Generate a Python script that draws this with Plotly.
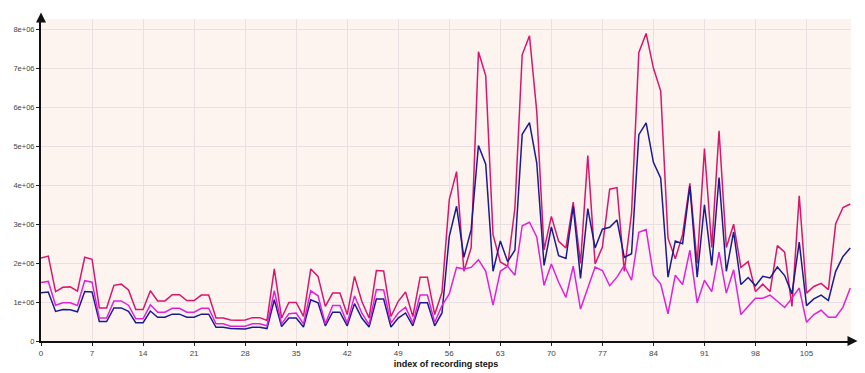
import plotly.graph_objects as go

steps = list(range(112))

series_red = [
    2.13, 2.18, 1.27, 1.38, 1.39, 1.28, 2.15, 2.10, 0.85, 0.85,
    1.43, 1.46, 1.31, 0.81, 0.81, 1.29, 1.03, 1.03, 1.19, 1.19,
    1.04, 1.04, 1.18, 1.18, 0.59, 0.59, 0.54, 0.53, 0.54, 0.60,
    0.60, 0.53, 1.85, 0.59, 0.99, 0.99, 0.63, 1.85, 1.66, 0.89,
    1.23, 1.23, 0.68, 1.66, 1.02, 0.59, 1.81, 1.80, 0.63, 1.02,
    1.26, 0.63, 1.64, 1.64, 0.68, 1.25, 3.63, 4.35, 1.79, 2.39,
    7.43, 6.81, 2.73, 2.03, 1.92, 3.41, 7.35, 7.84, 5.89, 2.34,
    3.20, 2.56, 2.39, 3.57, 1.99, 4.76, 1.98, 2.41, 3.90, 3.94,
    1.79, 3.28, 7.41, 7.90, 7.01, 6.42, 2.64, 2.11, 2.73, 4.05,
    1.99, 4.94, 2.40, 5.40, 2.40, 3.00, 1.89, 2.04, 1.27, 1.46,
    1.27, 2.45, 2.28, 0.89, 3.73, 1.23, 1.40, 1.48, 1.32, 3.01,
    3.43, 3.52,
]

series_navy = [
    1.24, 1.26, 0.76, 0.81, 0.80, 0.75, 1.27, 1.26, 0.50, 0.50,
    0.85, 0.85, 0.76, 0.47, 0.47, 0.77, 0.61, 0.61, 0.69, 0.69,
    0.61, 0.61, 0.69, 0.69, 0.35, 0.35, 0.32, 0.31, 0.31, 0.35,
    0.35, 0.32, 1.06, 0.37, 0.59, 0.59, 0.36, 1.06, 0.98, 0.39,
    0.74, 0.74, 0.39, 0.96, 0.59, 0.36, 1.08, 1.08, 0.36, 0.59,
    0.72, 0.39, 0.98, 0.98, 0.39, 0.72, 2.69, 3.46, 2.15, 2.86,
    5.02, 4.54, 1.79, 2.57, 2.04, 2.33, 5.31, 5.61, 4.57, 1.94,
    2.93, 2.19, 2.12, 3.46, 1.61, 3.40, 2.39, 2.87, 2.92, 3.11,
    2.15, 2.24, 5.30, 5.60, 4.59, 4.18, 1.64, 2.57, 2.50, 3.98,
    1.64, 3.50, 1.94, 4.20, 1.79, 2.80, 1.45, 1.63, 1.42, 1.66,
    1.62, 1.90, 1.68, 1.21, 2.54, 0.91, 1.08, 1.18, 1.04, 1.79,
    2.17, 2.39,
]

series_magenta = [
    1.50, 1.53, 0.92, 0.98, 0.98, 0.91, 1.55, 1.51, 0.59, 0.59,
    1.03, 1.03, 0.92, 0.57, 0.57, 0.93, 0.74, 0.74, 0.84, 0.84,
    0.74, 0.74, 0.84, 0.84, 0.44, 0.44, 0.38, 0.38, 0.38, 0.44,
    0.44, 0.39, 1.29, 0.44, 0.70, 0.72, 0.44, 1.29, 1.16, 0.44,
    0.91, 0.91, 0.46, 1.16, 0.72, 0.42, 1.32, 1.31, 0.46, 0.72,
    0.87, 0.46, 1.18, 1.18, 0.48, 0.91, 1.21, 1.89, 1.85, 1.89,
    2.09, 1.79, 0.92, 1.79, 1.92, 1.69, 2.96, 3.05, 2.67, 1.43,
    1.98, 1.51, 1.12, 1.92, 0.82, 1.36, 1.90, 1.81, 1.42, 1.64,
    1.94, 1.56, 2.79, 2.86, 1.69, 1.46, 0.70, 1.69, 1.45, 2.33,
    0.98, 1.56, 1.27, 2.28, 1.23, 1.83, 0.68, 0.89, 1.10, 1.10,
    1.18, 1.02, 0.86, 1.10, 1.36, 0.48, 0.68, 0.79, 0.61, 0.61,
    0.87, 1.36,
]

x_ticks = list(range(0, 112, 7))
y_tick_vals = [0, 1e6, 2e6, 3e6, 4e6, 5e6, 6e6, 7e6, 8e6]
y_tick_text = ["0", "1e+06", "2e+06", "3e+06", "4e+06", "5e+06", "6e+06", "7e+06", "8e+06"]

fig = go.Figure()
for vals, color in [(series_red, "#d8166b"), (series_navy, "#1b1b8e"), (series_magenta, "#de22dc")]:
    fig.add_trace(go.Scatter(
        x=steps, y=[v * 1e6 for v in vals], mode="lines",
        line=dict(color=color, width=1.5), showlegend=False, hoverinfo="skip",
    ))

fig.update_layout(
    width=865, height=373,
    margin=dict(l=41, r=14, t=19, b=32),
    paper_bgcolor="white",
    plot_bgcolor="#fdf4f0",
    font=dict(family="Liberation Sans, Arial, sans-serif", size=8, color="#333"),
    xaxis=dict(
        range=[0, 111.1], tickvals=x_ticks, ticks="outside", ticklen=3,
        tickcolor="#222", showline=True, linecolor="#111", linewidth=2,
        showgrid=True, gridcolor="#e9e1e1", gridwidth=1, zeroline=False,
        automargin=False,
        title=dict(text="<b>index of recording steps</b>", standoff=4,
                   font=dict(size=9, color="#111")),
        tickfont=dict(size=8, color="#444"),
    ),
    yaxis=dict(
        range=[0, 8.27e6], tickvals=y_tick_vals, ticktext=y_tick_text,
        ticks="outside", ticklen=3, tickcolor="#222", showline=True,
        linecolor="#111", linewidth=2, showgrid=True, gridcolor="#e9e1e1",
        gridwidth=1, zeroline=False, automargin=False,
        tickfont=dict(size=7.5, color="#444"),
    ),
)

fig.add_annotation(xref="paper", yref="paper", x=0, y=1.02, ax=0, ay=8,
                   showarrow=True, arrowhead=2, arrowsize=1, arrowwidth=2,
                   arrowcolor="#111", text="")
fig.add_annotation(xref="paper", yref="paper", x=1.008, y=0, ax=-8, ay=0,
                   showarrow=True, arrowhead=2, arrowsize=1, arrowwidth=2,
                   arrowcolor="#111", text="")

fig.write_html(
    "out.html",
    config={"displayModeBar": False},
    post_script="document.body.style.margin='0';document.body.style.overflow='hidden';",
)
